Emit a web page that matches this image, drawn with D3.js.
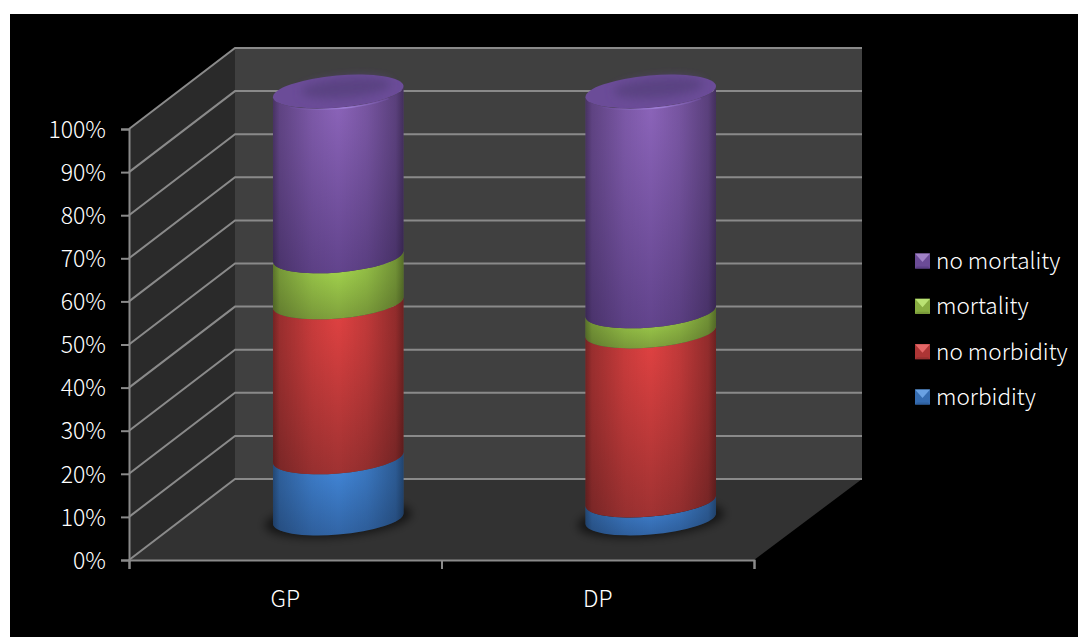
<!DOCTYPE html>
<html>
<head>
<meta charset="utf-8">
<script src="https://cdn.jsdelivr.net/npm/d3@7"></script>
<style>
html,body{margin:0;padding:0;background:#fff;overflow:hidden}
svg{display:block}
text{font-family:"Noto Sans CJK JP","Noto Sans",sans-serif;font-weight:300;fill:#fff}
</style>
</head>
<body>
<svg id="chart" width="1078" height="637"></svg>
<script>
// Survey groups and stacked shares, in percent
const categories = ["GP", "DP"];
const seriesNames = ["morbidity", "no morbidity", "mortality", "no mortality"];
const morbidity = [14.3, 4.2];
const noMorbidity = [36.3, 39.6];
const mortality = [10.8, 4.7];
const noMortality = [38.6, 51.5];
const percentTicks = [0, 10, 20, 30, 40, 50, 60, 70, 80, 90, 100];
const brightColors = ["#4389dc", "#de4141", "#a9dc50", "#8a63b8"];
const darkColors = ["#2f609f", "#983030", "#7a9a3a", "#5d4087"];

const rows = categories.map((c, i) => ({
  category: c,
  "morbidity": morbidity[i],
  "no morbidity": noMorbidity[i],
  "mortality": mortality[i],
  "no mortality": noMortality[i]
}));
const stacked = d3.stack().keys(seriesNames)(rows);

const svg = d3.select("#chart");
const defs = svg.append("defs");

// Projection of the 3D box: front plane plus a fixed depth offset
const depth = {x: 106, y: -81};
const y = d3.scaleLinear().domain([0, 100]).range([560, 129]);
const x = d3.scaleBand().domain(categories).range([129, 754]);
const edge = d3.scaleLinear().domain([0, categories.length]).range([129, 754]);
// Cylinders stand halfway into the box
const barY = d3.scaleLinear().domain([0, 100]).range([518.5, 91.5]);
const barCx = c => x(c) + x.bandwidth() / 2 + depth.x / 2;

const rx = 65.5, ry = 16, tiltDeg = -5;
const tilt = tiltDeg * Math.PI / 180;
const t0 = Math.atan2(-ry * Math.sin(tilt), rx * Math.cos(tilt));
const ext = {
  x: rx * Math.cos(t0) * Math.cos(tilt) - ry * Math.sin(t0) * Math.sin(tilt),
  y: rx * Math.cos(t0) * Math.sin(tilt) + ry * Math.sin(t0) * Math.cos(tilt)
};

function bandPath(cx, yLow, yHigh) {
  return `M${cx - ext.x},${yLow - ext.y}` +
    `A${rx},${ry} ${tiltDeg} 0 0 ${cx + ext.x},${yLow + ext.y}` +
    `L${cx + ext.x},${yHigh + ext.y}` +
    `A${rx},${ry} ${tiltDeg} 0 1 ${cx - ext.x},${yHigh - ext.y}Z`;
}

// Page backdrop
svg.append("rect").attr("x", 10).attr("y", 14).attr("width", 1068).attr("height", 623).attr("fill", "#000");

// Box walls
const wallPts = (pts) => pts.map(p => p.join(",")).join(" ");
const x0 = edge.range()[0], x1 = edge.range()[1], yB = y(0), yT = y(100);
svg.append("polygon").attr("fill", "#2a2a2a")
  .attr("points", wallPts([[x0, yT], [x0 + depth.x, yT + depth.y], [x0 + depth.x, yB + depth.y], [x0, yB]]));
svg.append("polygon").attr("fill", "#404040")
  .attr("points", wallPts([[x0 + depth.x, yT + depth.y], [x1 + depth.x + 2, yT + depth.y], [x1 + depth.x + 2, yB + depth.y], [x0 + depth.x, yB + depth.y]]));
svg.append("polygon").attr("fill", "#323232")
  .attr("points", wallPts([[x0, yB], [x1, yB], [x1 + depth.x + 2, yB + depth.y], [x0 + depth.x, yB + depth.y]]));

// Gridlines across the side wall and back wall
const grid = svg.append("g").attr("fill", "none").attr("stroke", "#8a8a8a").attr("stroke-width", 2);
grid.selectAll("path").data(percentTicks).join("path")
  .attr("d", v => `M${x0},${y(v)}L${x0 + depth.x},${y(v) + depth.y}L${x1 + depth.x + 2},${y(v) + depth.y}`);

// Axes on the front plane
const yAxis = svg.append("g").attr("transform", `translate(${x0},0)`)
  .call(d3.axisLeft(y).tickValues(percentTicks).tickFormat(d => d + "%").tickSize(8).tickPadding(15));
const edgeAxis = svg.append("g").attr("transform", `translate(0,${yB})`)
  .call(d3.axisBottom(edge).ticks(categories.length).tickFormat("").tickSize(9));
const xAxis = svg.append("g").attr("transform", `translate(0,${yB})`)
  .call(d3.axisBottom(x).tickSize(0).tickPadding(31));
[yAxis, edgeAxis].forEach(g => g.selectAll("path,line").attr("stroke", "#8a8a8a").attr("stroke-width", 2));
xAxis.select("path").remove();
yAxis.selectAll("text").style("font-size", "23px").attr("dy", ".36em");
xAxis.selectAll("text").style("font-size", "23px");

// Gradients for the cylinder shading
stacked.forEach((s, i) => {
  const g = defs.append("radialGradient").attr("id", "seg" + i)
    .attr("cx", 0.5).attr("cy", 0.1).attr("r", 1);
  g.append("stop").attr("offset", 0).attr("stop-color", brightColors[i]);
  g.append("stop").attr("offset", 1).attr("stop-color", darkColors[i]);
});
const edgeShade = defs.append("linearGradient").attr("id", "edgeShade");
[[0, 0.38], [0.05, 0.2], [0.3, 0.05], [0.5, 0], [0.72, 0.08], [0.94, 0.24], [1, 0.42]].forEach(([o, a]) =>
  edgeShade.append("stop").attr("offset", o).attr("stop-color", "#000").attr("stop-opacity", a));
const blur = defs.append("filter").attr("id", "soft").attr("x", "-20%").attr("y", "-60%").attr("width", "140%").attr("height", "220%");
blur.append("feGaussianBlur").attr("stdDeviation", 5);
const lidBlur = defs.append("filter").attr("id", "lidSoft").attr("x", "-30%").attr("y", "-60%").attr("width", "160%").attr("height", "220%");
lidBlur.append("feGaussianBlur").attr("stdDeviation", 5);
const lidGrad = defs.append("linearGradient").attr("id", "lidRim");
[[0, "#6a4b96"], [0.55, "#a080d8"], [1, "#6a4b96"]].forEach(([o, c]) =>
  lidGrad.append("stop").attr("offset", o).attr("stop-color", c));

// Contact shadows on the floor
svg.append("g").selectAll("ellipse").data(categories).join("ellipse")
  .attr("cx", c => barCx(c)).attr("cy", barY(0) + 1)
  .attr("rx", rx + 8).attr("ry", ry + 1)
  .attr("transform", c => `rotate(${tiltDeg},${barCx(c)},${barY(0)})`)
  .attr("fill", "#000").attr("fill-opacity", 0.6).attr("filter", "url(#soft)");

// Stacked cylinder segments
const segs = svg.append("g").selectAll("g").data(stacked).join("g");
segs.selectAll("path.seg").data((s, i) => s.map(d => ({i, lo: d[0], hi: d[1], c: d.data.category})))
  .join("path").attr("class", "seg")
  .attr("d", d => bandPath(barCx(d.c), barY(d.lo), barY(d.hi)))
  .attr("fill", d => `url(#seg${d.i})`);
segs.selectAll("path.shade").data((s, i) => s.map(d => ({lo: d[0], hi: d[1], c: d.data.category})))
  .join("path").attr("class", "shade")
  .attr("d", d => bandPath(barCx(d.c), barY(d.lo), barY(d.hi)))
  .attr("fill", "url(#edgeShade)");

// Lids on top of each stack
const lids = svg.append("g").selectAll("g").data(categories).join("g")
  .attr("transform", c => `translate(${barCx(c)},${barY(100)}) rotate(${tiltDeg})`);
lids.append("ellipse").attr("rx", rx).attr("ry", ry).attr("fill", "#6b4c98");
lids.append("ellipse").attr("cx", 8).attr("cy", -3).attr("rx", rx - 20).attr("ry", ry - 6)
  .attr("fill", "#5a4282").attr("filter", "url(#lidSoft)");
lids.append("path")
  .attr("d", `M${-rx + 16},11.5A${rx},${ry} 0 0 0 ${rx - 16},11.5`)
  .attr("fill", "none").attr("stroke", "url(#lidRim)").attr("stroke-width", 1.2);

// Legend, top entry is the last stacked series
const legendY = d3.scalePoint().domain(seriesNames.slice().reverse()).range([261, 397]);
const legend = svg.append("g").selectAll("g").data(seriesNames).join("g")
  .attr("transform", n => `translate(915,${legendY(n)})`);
const s = 7.5;
const facets = [
  {pts: [[-s, -s], [s, -s], [s, s], [-s, s]], col: (i) => d3.interpolateRgb(brightColors[i], darkColors[i])(0.7)},
  {pts: [[-s, -s], [s, -s], [0, 1]], col: (i) => d3.interpolateRgb(brightColors[i], "#fff")(0.2)},
  {pts: [[-s, s], [s, s], [s - 2, s - 2], [-s + 2, s - 2]], col: (i) => darkColors[i]}
];
legend.each(function(n) {
  const i = seriesNames.indexOf(n);
  const g = d3.select(this).append("g").attr("transform", "translate(7.5,0)");
  g.selectAll("polygon").data(facets).join("polygon")
    .attr("points", f => f.pts.map(p => p.join(",")).join(" "))
    .attr("fill", f => f.col(i));
});
legend.append("text").attr("x", 21).attr("dy", ".36em").style("font-size", "22.6px").text(n => n);
</script>
</body>
</html>
